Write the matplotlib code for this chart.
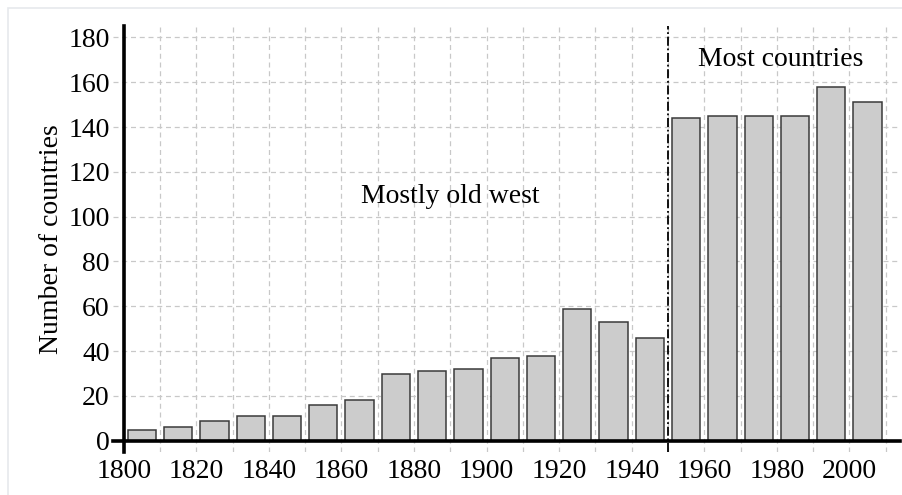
import matplotlib
matplotlib.use('Agg')
from matplotlib import pyplot as plt
from matplotlib.patches import Rectangle

decades = [1800, 1810, 1820, 1830, 1840, 1850, 1860, 1870, 1880, 1890, 1900,
           1910, 1920, 1930, 1940, 1950, 1960, 1970, 1980, 1990, 2000]
countries = [5, 6, 9, 11, 11, 16, 18, 30, 31, 32, 37,
             38, 59, 53, 46, 144, 145, 145, 145, 158, 151]
year_ticks = list(range(1800, 2001, 20))
count_ticks = list(range(0, 181, 20))

plt.rcParams['font.family'] = ['Liberation Serif', 'DejaVu Serif']

fig = plt.figure(figsize=(9.03, 4.95), dpi=100)
fig.patches.append(Rectangle((8 / 903, -0.1), 1.2, 1.1 - 8 / 495, transform=fig.transFigure,
                             fill=False, edgecolor='#e6e9ec', linewidth=1.2))
ax = fig.add_axes([0.125, 0.087, 0.872, 0.86])

centers = [d + 5 for d in decades]
ax.bar(centers, countries, width=7.8, color='#cccccc', edgecolor='#3a3a3a', linewidth=1.1, zorder=3)

ax.set_xlim(1797, 2014)
ax.set_ylim(-5, 185)
ax.set_xticks(year_ticks)
ax.set_xticks(range(1810, 2011, 10), minor=True)
ax.set_yticks(count_ticks)
ax.tick_params(axis='both', which='both', length=0, labelsize=20)
ax.tick_params(axis='x', pad=13)
ax.tick_params(axis='y', pad=10)
ax.grid(True, which='both', axis='x', color='#c8c8c8', linestyle=(0, (4, 3)), linewidth=0.9, zorder=0)
ax.grid(True, which='major', axis='y', color='#c8c8c8', linestyle=(0, (4, 3)), linewidth=0.9, zorder=0)

for side in ['top', 'right']:
    ax.spines[side].set_visible(False)
ax.spines['left'].set_position(('data', 1800))
ax.spines['bottom'].set_position(('data', 0))
ax.spines['left'].set_linewidth(2.6)
ax.spines['bottom'].set_linewidth(2.6)
ax.spines['left'].set_zorder(4)
ax.spines['bottom'].set_zorder(4)

ax.axvline(1950, color='black', linestyle=(0, (5, 1.5, 1, 1.5)), linewidth=1.3, zorder=5)

ax.text(1890, 109, 'Mostly old west', fontsize=20, ha='center', va='center')
ax.text(1981, 170, 'Most countries', fontsize=20, ha='center', va='center')
ax.set_ylabel('Number of countries', fontsize=20, labelpad=3)

fig.savefig('out.png', dpi=100)
